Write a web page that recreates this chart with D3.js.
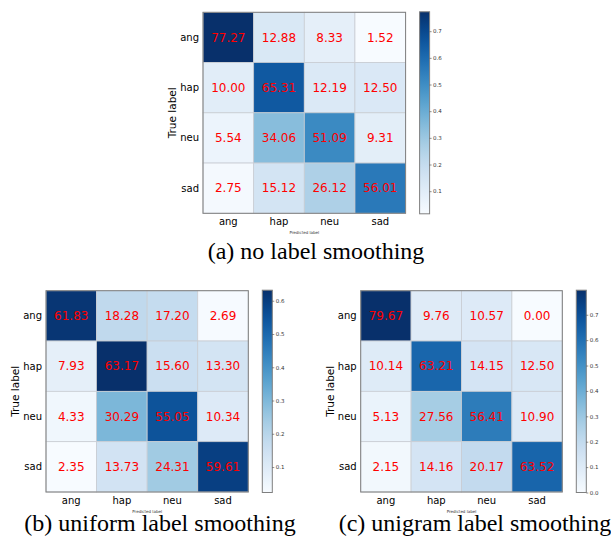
<!DOCTYPE html>
<html>
<head>
	<title>confusion matrices</title>
	<script src="https://d3js.org/d3.v7.min.js"></script>
	<style>
		body { margin: 0; background: #fff; }
		svg { display: block; }
	</style>
</head>
<body>
	<svg width="611" height="542"></svg>
	<script type="text/javascript">
		var labels = ['ang', 'hap', 'neu', 'sad'];

		// rows = true label, cols = predicted label (percent)
		var noSmoothing = [
			[77.27, 12.88,  8.33,  1.52],
			[10.00, 65.31, 12.19, 12.50],
			[ 5.54, 34.06, 51.09,  9.31],
			[ 2.75, 15.12, 26.12, 56.01]
		];
		var uniformSmoothing = [
			[61.83, 18.28, 17.20,  2.69],
			[ 7.93, 63.17, 15.60, 13.30],
			[ 4.33, 30.29, 55.05, 10.34],
			[ 2.35, 13.73, 24.31, 59.61]
		];
		var unigramSmoothing = [
			[79.67,  9.76, 10.57,  0.00],
			[10.14, 63.21, 14.15, 12.50],
			[ 5.13, 27.56, 56.41, 10.90],
			[ 2.15, 14.16, 20.17, 63.52]
		];
		var captions = ['(a) no label smoothing', '(b) uniform label smoothing', '(c) unigram label smoothing'];
		var cbTicks = [0.0, 0.1, 0.2, 0.3, 0.4, 0.5, 0.6, 0.7];

		var svg = d3.select('svg');
		var defs = svg.append('defs');

		var panels = [
			{ data: noSmoothing,      x: 203,   y: 12.3,  w: 202.6, h: 201, cap: [316, 259] },
			{ data: uniformSmoothing, x: 46,    y: 290.7, w: 202.3, h: 201.3, cap: [160, 531] },
			{ data: unigramSmoothing, x: 360.7, y: 290.7, w: 201.6, h: 201.3, cap: [475, 531] }
		];

		panels.forEach(function(p, k) {
			var flat = d3.merge(p.data).map(v => v / 100);
			var ext = d3.extent(flat);
			var color = d3.scaleSequential(d3.interpolateBlues).domain(ext);

			var x = d3.scaleBand().domain(labels).range([p.x, p.x + p.w]);
			var y = d3.scaleBand().domain(labels).range([p.y, p.y + p.h]);

			var g = svg.append('g');

			// cells
			p.data.forEach(function(row, i) {
				row.forEach(function(v, j) {
					g.append('rect')
						.attr('x', x(labels[j]))
						.attr('y', y(labels[i]))
						.attr('width', x.bandwidth())
						.attr('height', y.bandwidth())
						.attr('fill', color(v / 100))
						.attr('stroke', '#c9cdd3')
						.attr('stroke-width', 0.8);
					g.append('text')
						.attr('x', x(labels[j]) + x.bandwidth() / 2)
						.attr('y', y(labels[i]) + y.bandwidth() / 2 + 4.3)
						.attr('text-anchor', 'middle')
						.attr('font-family', 'DejaVu Sans')
						.attr('font-size', 12)
						.attr('fill', '#ff0000')
						.text(v.toFixed(2));
				});
			});

			g.append('rect')
				.attr('x', p.x).attr('y', p.y)
				.attr('width', p.w).attr('height', p.h)
				.attr('fill', 'none')
				.attr('stroke', '#7f7f7f')
				.attr('stroke-width', 1);

			// tick labels
			g.selectAll('.ytick').data(labels).enter().append('text')
				.attr('x', p.x - 4)
				.attr('y', d => y(d) + y.bandwidth() / 2 + 3.5)
				.attr('text-anchor', 'end')
				.attr('font-family', 'DejaVu Sans')
				.attr('font-size', 10)
				.attr('fill', '#000')
				.text(d => d);
			g.selectAll('.xtick').data(labels).enter().append('text')
				.attr('x', d => x(d) + x.bandwidth() / 2)
				.attr('y', p.y + p.h + 11.5)
				.attr('text-anchor', 'middle')
				.attr('font-family', 'DejaVu Sans')
				.attr('font-size', 10)
				.attr('fill', '#000')
				.text(d => d);

			g.append('text')
				.attr('transform', 'translate(' + (p.x - 27) + ',' + (p.y + p.h / 2) + ') rotate(-90)')
				.attr('text-anchor', 'middle')
				.attr('font-family', 'DejaVu Sans')
				.attr('font-size', 10.5)
				.text('True label');
			g.append('text')
				.attr('x', p.x + p.w / 2)
				.attr('y', p.y + p.h + 20.5)
				.attr('text-anchor', 'middle')
				.attr('font-family', 'DejaVu Sans')
				.attr('font-size', 4)
				.attr('fill', '#333')
				.text('Predicted label');

			// colorbar
			var cbx = p.x + p.w + 14, cbw = 10;
			var cbTop = p.y - 0.5, cbBot = p.y + p.h + 0.5;
			var cy = d3.scaleLinear().domain(ext).range([cbBot, cbTop]);
			var grad = defs.append('linearGradient')
				.attr('id', 'cb' + k)
				.attr('x1', 0).attr('y1', 1).attr('x2', 0).attr('y2', 0);
			d3.range(0, 1.001, 0.05).forEach(function(t) {
				grad.append('stop')
					.attr('offset', t)
					.attr('stop-color', d3.interpolateBlues(t));
			});
			g.append('rect')
				.attr('x', cbx).attr('y', cbTop)
				.attr('width', cbw).attr('height', cbBot - cbTop)
				.attr('fill', 'url(#cb' + k + ')')
				.attr('stroke', '#7f7f7f')
				.attr('stroke-width', 1);

			var ticks = cbTicks.filter(t => t >= ext[0] - 1e-9 && t <= ext[1]);
			var cbAxis = d3.axisRight(cy)
				.tickValues(ticks)
				.tickFormat(d3.format('.1f'))
				.tickSize(2)
				.tickPadding(1.5);
			var ax = g.append('g')
				.attr('transform', 'translate(' + (cbx + cbw) + ',0)')
				.call(cbAxis);
			ax.select('.domain').remove();
			ax.selectAll('line').attr('stroke', '#444').attr('stroke-width', 0.6);
			ax.selectAll('text')
				.attr('font-family', 'DejaVu Sans')
				.attr('font-size', 5.5)
				.attr('fill', '#333');

			// caption
			svg.append('text')
				.attr('x', p.cap[0])
				.attr('y', p.cap[1])
				.attr('text-anchor', 'middle')
				.attr('font-family', 'Liberation Serif, Times New Roman, serif')
				.attr('font-size', 24)
				.attr('fill', '#000')
				.text(captions[k]);
		});
	</script>
</body>
</html>
